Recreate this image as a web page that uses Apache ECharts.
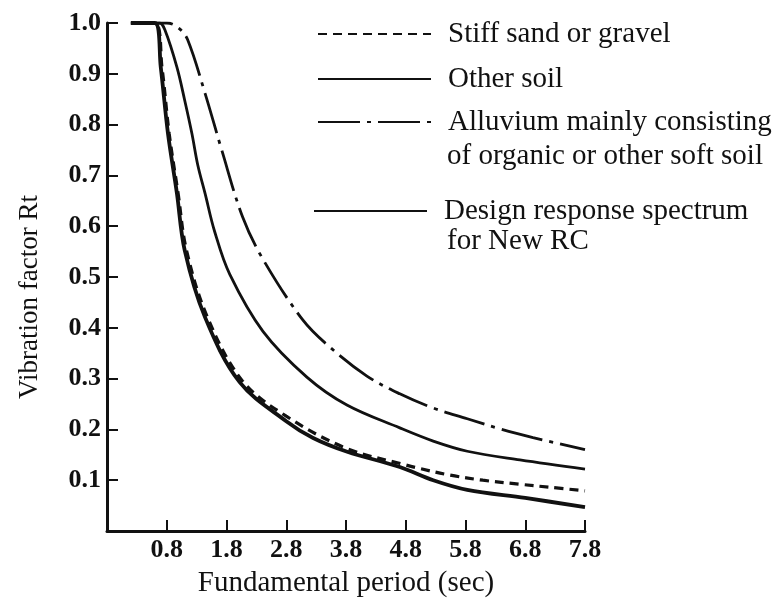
<!DOCTYPE html>
<html>
<head>
<meta charset="utf-8">
<title>Vibration factor Rt</title>
<script src="https://cdn.jsdelivr.net/npm/echarts@6/dist/echarts.min.js"></script>
<style>
  html, body { margin: 0; padding: 0; background: #fff; }
  #chart { width: 781px; height: 610px; }
</style>
</head>
<body>
<div id="chart"></div>
<script>
// tick labels
const periodTicks = [0.8, 1.8, 2.8, 3.8, 4.8, 5.8, 6.8, 7.8]
const rtTicks = [0.1, 0.2, 0.3, 0.4, 0.5, 0.6, 0.7, 0.8, 0.9, 1.0]

// Stiff sand or gravel
const stiffT = [0.2, 0.6, 0.72, 0.84, 0.99, 1.13, 1.48, 2.07, 2.8, 3.8, 4.8, 5.0, 5.54, 6.09, 6.71, 7.22, 7.8]
const stiffRt = [1.0, 1.0, 0.913, 0.783, 0.665, 0.553, 0.421, 0.295, 0.226, 0.163, 0.130, 0.124, 0.110, 0.100, 0.092, 0.086, 0.079]

// Other soil
const otherT = [0.2, 0.68, 0.77, 0.97, 1.1, 1.22, 1.32, 1.44, 1.6, 1.855, 2.41, 3.145, 3.815, 4.7, 5.26, 5.83, 6.71, 7.8]
const otherRt = [1.0, 1.0, 0.986, 0.913, 0.848, 0.783, 0.72, 0.665, 0.59, 0.505, 0.393, 0.303, 0.248, 0.203, 0.177, 0.157, 0.140, 0.122]

// Alluvium mainly consisting of organic or other soft soil
const alluT = [0.2, 0.8, 1.0, 1.15, 1.44, 1.72, 2.07, 2.41, 3.08, 3.53, 4.15, 4.7, 5.26, 5.83, 6.38, 6.93, 7.8]
const alluRt = [1.0, 1.0, 0.99, 0.967, 0.862, 0.75, 0.618, 0.535, 0.415, 0.362, 0.305, 0.270, 0.242, 0.221, 0.201, 0.184, 0.160]

// Design response spectrum for New RC
const designT = [0.2, 0.6, 0.7, 0.82, 0.97, 1.1, 1.44, 2.02, 2.8, 3.25, 3.82, 4.7, 5.26, 5.83, 6.8, 7.8]
const designRt = [1.0, 1.0, 0.913, 0.783, 0.665, 0.553, 0.421, 0.293, 0.216, 0.183, 0.156, 0.126, 0.100, 0.081, 0.065, 0.047]

const serif = "'Liberation Serif', 'DejaVu Serif', serif"
const ink = '#111'

function pairs(xs, ys) {
  return xs.map((x, i) => [x, ys[i]])
}

function legendFor(name, top, left) {
  return {
    data: [name],
    top: top,
    left: left,
    padding: 0,
    orient: 'vertical',
    itemWidth: 113,
    itemHeight: 14,
    selectedMode: false,
    itemStyle: { opacity: 0 },
    textStyle: {
      fontFamily: serif,
      fontSize: 29,
      color: ink,
      lineHeight: 30,
      padding: [0, 0, 0, 12]
    }
  }
}

const chart = echarts.init(document.getElementById('chart'))

chart.setOption({
  animation: false,
  backgroundColor: '#fff',
  grid: {
    left: 107,
    right: 196,
    top: 23,
    bottom: 79
  },
  legend: [
    legendFor('Stiff sand or gravel', 19, 317),
    legendFor('Other soil', 64, 317),
    legendFor('Alluvium mainly consisting', 107, 317),
    legendFor('Design response spectrum', 196, 313)
  ],
  graphic: [
    {
      type: 'text',
      left: 447,
      top: 142,
      style: { text: 'of organic or other soft soil', font: '29px ' + serif, fill: ink }
    },
    {
      type: 'text',
      left: 447,
      top: 227,
      style: { text: 'for New RC', font: '29px ' + serif, fill: ink }
    }
  ],
  xAxis: {
    type: 'value',
    min: -0.2,
    max: 7.8,
    name: 'Fundamental period (sec)',
    nameLocation: 'middle',
    nameGap: 38,
    nameTextStyle: { fontFamily: serif, fontSize: 29, color: ink },
    axisLine: { onZero: false, lineStyle: { color: ink, width: 3 } },
    axisTick: {
      inside: true,
      length: 11,
      customValues: periodTicks,
      lineStyle: { color: ink, width: 2 }
    },
    axisLabel: {
      customValues: periodTicks,
      margin: 6,
      formatter: v => v.toFixed(1),
      fontFamily: serif,
      fontWeight: 'bold',
      fontSize: 26,
      color: ink
    },
    splitLine: { show: false }
  },
  yAxis: {
    type: 'value',
    min: 0,
    max: 1,
    name: 'Vibration factor Rt',
    nameLocation: 'middle',
    nameRotate: 90,
    nameGap: 64,
    nameTextStyle: { fontFamily: serif, fontSize: 27, color: ink, padding: [0, 40, 0, 0] },
    axisLine: { show: true, onZero: false, lineStyle: { color: ink, width: 3 } },
    axisTick: {
      show: true,
      inside: true,
      length: 11,
      customValues: rtTicks,
      lineStyle: { color: ink, width: 2 }
    },
    axisLabel: {
      customValues: rtTicks,
      margin: 6,
      formatter: v => v.toFixed(1),
      fontFamily: serif,
      fontWeight: 'bold',
      fontSize: 26,
      color: ink
    },
    splitLine: { show: false }
  },
  series: [
    {
      name: 'Stiff sand or gravel',
      type: 'line',
      data: pairs(stiffT, stiffRt),
      symbol: 'none',
      smooth: 0.35,
      lineStyle: { color: ink, width: 3.2, type: [9, 6] }
    },
    {
      name: 'Other soil',
      type: 'line',
      data: pairs(otherT, otherRt),
      symbol: 'none',
      smooth: 0.35,
      lineStyle: { color: ink, width: 2.8, type: 'solid' }
    },
    {
      name: 'Alluvium mainly consisting',
      type: 'line',
      data: pairs(alluT, alluRt),
      symbol: 'none',
      smooth: 0.35,
      lineStyle: { color: ink, width: 2.8, type: [42, 7, 4, 7] }
    },
    {
      name: 'Design response spectrum',
      type: 'line',
      data: pairs(designT, designRt),
      symbol: 'none',
      smooth: 0.35,
      lineStyle: { color: ink, width: 3.8, type: 'solid' }
    }
  ]
})
</script>
</body>
</html>
